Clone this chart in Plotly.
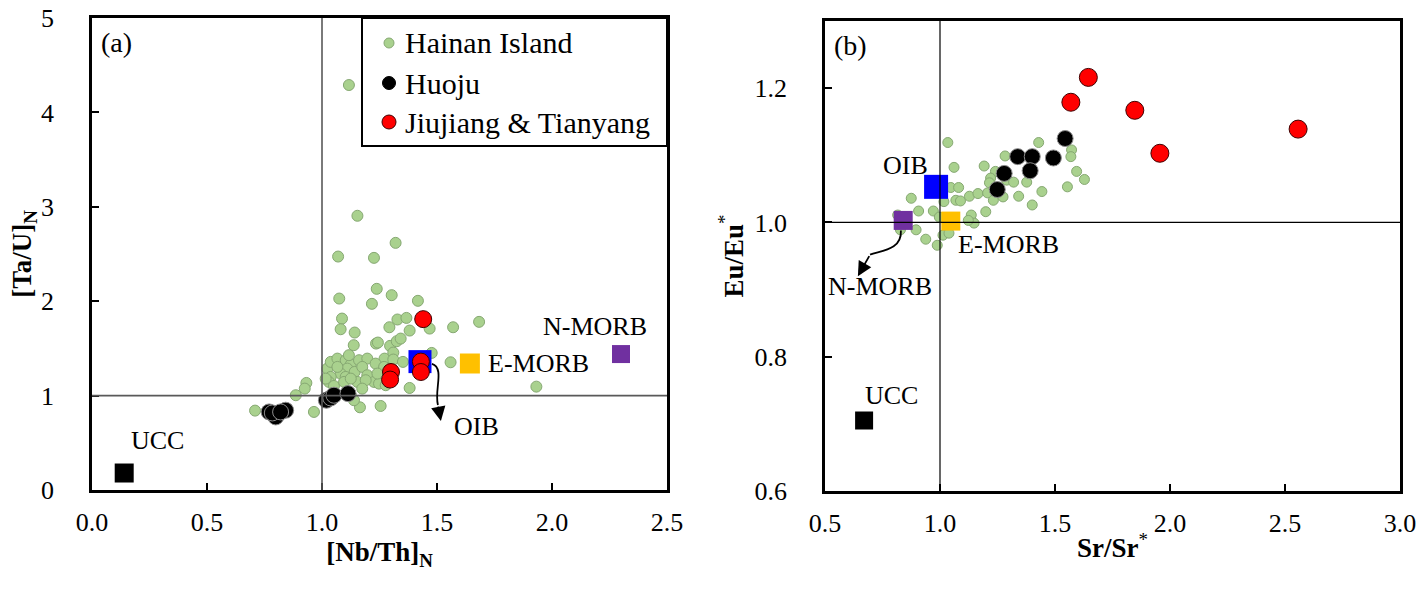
import plotly.graph_objects as go

# ---------------- data ----------------
# Panel (a): [Nb/Th]N vs [Ta/U]N
a_hainan_x = [1.154, 1.320, 1.070, 1.226, 1.238, 1.303, 1.075, 1.217, 1.417, 1.087,
              1.328, 1.367, 1.081, 1.142, 1.293, 1.381, 1.468, 1.570, 1.683, 1.138,
              1.235, 1.243, 1.296, 1.325, 1.342, 1.272, 1.310, 1.310, 1.352, 1.477,
              1.559, 1.932, 1.023, 1.038, 1.067, 1.103, 1.125, 1.161, 1.197, 1.233,
              1.110, 1.142, 1.175, 1.197, 1.081, 1.038, 1.030, 1.052, 1.103, 1.154,
              1.226, 1.248, 0.932, 0.925, 0.886, 0.965, 0.709, 1.165, 1.255, 1.381,
              1.277, 1.125, 1.139, 1.190, 1.270, 1.117, 1.096, 1.067, 1.016, 1.175,
              1.241, 1.125, 1.117]
a_hainan_y = [2.905, 2.618, 2.473, 2.459, 2.131, 2.064, 2.028, 1.972, 2.004, 1.816,
              1.806, 1.823, 1.703, 1.668, 1.724, 1.689, 1.710, 1.724, 1.781, 1.534,
              1.551, 1.562, 1.527, 1.576, 1.604, 1.392, 1.456, 1.382, 1.357, 1.452,
              1.353, 1.095, 1.286, 1.357, 1.392, 1.375, 1.329, 1.375, 1.392, 1.339,
              1.286, 1.251, 1.304, 1.216, 1.233, 1.198, 1.145, 1.102, 1.198, 1.145,
              1.145, 1.127, 1.134, 1.074, 1.004, 0.827, 0.841, 0.876, 0.890, 1.081,
              1.110, 1.004, 0.951, 1.163, 1.304, 1.428, 1.145, 1.304, 1.180, 1.074,
              1.233, 1.180, 4.290]
a_huoju_x = [0.770, 0.799, 0.842, 0.784, 0.820, 1.019, 1.038, 1.052, 1.113]
a_huoju_y = [0.827, 0.774, 0.845, 0.816, 0.827, 0.951, 0.975, 1.004, 1.021]
a_jt_x = [1.440, 1.430, 1.430, 1.300, 1.296]
a_jt_y = [1.810, 1.360, 1.250, 1.250, 1.170]

# Panel (b): Sr/Sr* vs Eu/Eu*
b_hainan_x = [1.034, 1.429, 1.572, 1.569, 1.283, 1.061, 1.192, 1.241, 1.220, 1.215,
              1.290, 1.320, 1.377, 1.594, 1.628, 1.554, 1.443, 1.047, 1.081, 0.875,
              1.069, 1.089, 1.128, 1.165, 1.207, 1.232, 1.274, 1.342, 1.401, 1.199,
              1.017, 0.971, 0.907, 1.136, 1.148, 1.123, 0.816, 0.828, 0.938, 0.988,
              1.013, 1.039, 0.997, 0.896]
b_hainan_y = [1.119, 1.119, 1.108, 1.098, 1.099, 1.082, 1.084, 1.076, 1.066, 1.059,
              1.063, 1.060, 1.060, 1.076, 1.064, 1.053, 1.046, 1.052, 1.052, 1.036,
              1.033, 1.032, 1.039, 1.043, 1.044, 1.033, 1.038, 1.039, 1.026, 1.016,
              1.031, 1.017, 1.017, 1.011, 0.999, 1.003, 1.011, 0.989, 0.975, 0.966,
              0.981, 0.984, 1.008, 0.989]
b_huoju_x = [1.544, 1.338, 1.401, 1.493, 1.392, 1.279, 1.249]
b_huoju_y = [1.125, 1.098, 1.098, 1.096, 1.077, 1.073, 1.049]
b_jt_x = [1.645, 1.569, 1.847, 1.956, 2.557]
b_jt_y = [1.216, 1.179, 1.167, 1.103, 1.139]

# Reference reservoirs
ref_names = ["UCC", "OIB", "E-MORB", "N-MORB"]
ref_colors = ["#000000", "#0000ff", "#ffc000", "#7030a0"]
ref_a_x = [0.14, 1.426, 1.643, 2.30]
ref_a_y = [0.18, 1.36, 1.34, 1.44]
ref_b_x = [0.67, 0.983, 1.047, 0.840]
ref_b_y = [0.705, 1.053, 1.002, 1.003]

# Legend entries
legend_names = ["Hainan Island", "Huoju", "Jiujiang & Tianyang"]

# ---------------- styling ----------------
W, H = 1426, 591
SERIF = "Liberation Serif"
GREEN, GREEN_EDGE = "#a9d18e", "#86a872"

# plot boxes in pixels (left, right, top, bottom)
BOX_A = (92, 667, 18, 490)
BOX_B = (825, 1400, 21, 491)


def px_x(p):
    return p / W


def px_y(p):
    return 1 - p / H


fig = go.Figure()

panels = [
    dict(xa="x", ya="y", hx=a_hainan_x, hy=a_hainan_y, kx=a_huoju_x, ky=a_huoju_y,
         jx=a_jt_x, jy=a_jt_y, rx=ref_a_x, ry=ref_a_y,
         gs=11, ks=16, js=17, rs=[19, 23, 20, 18]),
    dict(xa="x2", ya="y2", hx=b_hainan_x, hy=b_hainan_y, kx=b_huoju_x, ky=b_huoju_y,
         jx=b_jt_x, jy=b_jt_y, rx=ref_b_x, ry=ref_b_y,
         gs=10, ks=16, js=18, rs=[18, 24, 19, 19]),
]

for p in panels:
    fig.add_trace(go.Scatter(
        x=p["hx"], y=p["hy"], xaxis=p["xa"], yaxis=p["ya"], mode="markers",
        marker=dict(size=p["gs"], color=GREEN, line=dict(color=GREEN_EDGE, width=1)),
        showlegend=False))
    for i, name in enumerate(ref_names):
        fig.add_trace(go.Scatter(
            x=[p["rx"][i]], y=[p["ry"][i]], xaxis=p["xa"], yaxis=p["ya"], mode="markers",
            marker=dict(symbol="square", size=p["rs"][i], color=ref_colors[i],
                        line=dict(width=0)),
            showlegend=False))
    fig.add_trace(go.Scatter(
        x=p["kx"], y=p["ky"], xaxis=p["xa"], yaxis=p["ya"], mode="markers",
        marker=dict(size=p["ks"], color="#000000", line=dict(color="#8c8c8c", width=1)),
        showlegend=False))
    fig.add_trace(go.Scatter(
        x=p["jx"], y=p["jy"], xaxis=p["xa"], yaxis=p["ya"], mode="markers",
        marker=dict(size=p["js"], color="#ff0000", line=dict(color="#400000", width=1)),
        showlegend=False))

# ---- boxed legend inside panel (a), drawn on an overlay of the panel box ----
LEG_BOX = (362, 667, 18, 146)          # left, right, top, bottom in px
LEG_SYM_X = 389
LEG_ROWS = [43, 83, 122]
leg_style = [(GREEN, GREEN_EDGE, 10), ("#000000", "#000000", 13), ("#ff0000", "#400000", 14)]


def in_box_x(p):
    return (p - BOX_A[0]) / (BOX_A[1] - BOX_A[0])


def in_box_y(p):
    return (BOX_A[3] - p) / (BOX_A[3] - BOX_A[2])


for name, row, (c, e, s) in zip(legend_names, LEG_ROWS, leg_style):
    fig.add_trace(go.Scatter(
        x=[in_box_x(LEG_SYM_X)], y=[in_box_y(row)], xaxis="x3", yaxis="y3",
        mode="markers", name=name, showlegend=False, hoverinfo="skip",
        marker=dict(size=s, color=c, line=dict(color=e, width=1))))

# reference lines at 1
shapes = [
    dict(type="line", xref="x", yref="y domain", x0=1, x1=1, y0=0, y1=1,
         line=dict(color="#595959", width=1.6)),
    dict(type="line", xref="x domain", yref="y", x0=0, x1=1, y0=1, y1=1,
         line=dict(color="#595959", width=1.6)),
    dict(type="line", xref="x2", yref="y2 domain", x0=1, x1=1, y0=0, y1=1,
         line=dict(color="#000000", width=1.2)),
    dict(type="line", xref="x2 domain", yref="y2", x0=0, x1=1, y0=1, y1=1,
         line=dict(color="#000000", width=1.2)),
    dict(type="rect", xref="paper", yref="paper",
         x0=px_x(LEG_BOX[0]), x1=px_x(LEG_BOX[1]), y0=px_y(LEG_BOX[3]), y1=px_y(LEG_BOX[2]),
         line=dict(color="#000000", width=2), fillcolor="rgba(0,0,0,0)"),
]

# curved pointer from OIB to its label in (a)
ox, oy = ref_a_x[1], ref_a_y[1]
shapes.append(dict(
    type="path", xref="x", yref="y",
    path=(f"M {ox + 0.052},{oy - 0.025} C {ox + 0.109},{oy - 0.068} "
          f"{ox + 0.061},{oy - 0.301} {ox + 0.078},{oy - 0.46}"),
    line=dict(color="#000000", width=1.8)))
# curved pointer from N-MORB to its label in (b)
nx, ny = ref_b_x[3], ref_b_y[3]
shapes.append(dict(
    type="path", xref="x2", yref="y2",
    path=(f"M {nx - 0.010},{ny - 0.015} C {nx - 0.005},{ny - 0.045} "
          f"{nx - 0.101},{ny - 0.045} {nx - 0.144},{ny - 0.051}"),
    line=dict(color="#000000", width=1.8)))

TXT = dict(family=SERIF, size=26, color="#000000")
ann = []
# arrowheads
ann.append(dict(xref="x", yref="y", axref="x", ayref="y",
                x=ox + 0.091, y=oy - 0.63, ax=ox + 0.078, ay=oy - 0.46,
                showarrow=True, arrowhead=2, arrowsize=1.6, arrowwidth=1.8,
                arrowcolor="#000000", text=""))
ann.append(dict(xref="x2", yref="y2", axref="x2", ayref="y2",
                x=nx - 0.197, y=ny - 0.083, ax=nx - 0.144, ay=ny - 0.051,
                showarrow=True, arrowhead=2, arrowsize=1.6, arrowwidth=1.8,
                arrowcolor="#000000", text=""))

# reservoir labels: (name index, axis, xshift, yshift, xanchor)
label_spec = [
    (0, "", 33, 33, "center"),
    (1, "", 57, -65, "center"),
    (2, "", 16, 0, "left"),
    (3, "", -26, 28, "center"),
    (0, "2", 27, 25, "center"),
    (1, "2", -31, 21, "center"),
    (2, "2", 5, -23, "left"),
    (3, "2", -23, -66, "center"),
]
for i, ax_id, xs, ys, anchor in label_spec:
    rx = ref_a_x if ax_id == "" else ref_b_x
    ry = ref_a_y if ax_id == "" else ref_b_y
    ann.append(dict(xref="x" + ax_id, yref="y" + ax_id, x=rx[i], y=ry[i],
                    text=ref_names[i], showarrow=False, xshift=xs, yshift=ys,
                    xanchor=anchor, yanchor="middle", font=TXT))

# legend texts
for name, row in zip(legend_names, LEG_ROWS):
    ann.append(dict(xref="paper", yref="paper", x=px_x(LEG_SYM_X + 14), y=px_y(row),
                    text=name, showarrow=False, xanchor="left", yanchor="middle",
                    font=dict(family=SERIF, size=30, color="#000000")))

# panel tags
ann.append(dict(xref="x domain", yref="y domain", x=0.012, y=0.985, text="(a)",
                showarrow=False, xanchor="left", yanchor="top",
                font=dict(family=SERIF, size=28, color="#000000")))
ann.append(dict(xref="x2 domain", yref="y2 domain", x=0.012, y=0.985, text="(b)",
                showarrow=False, xanchor="left", yanchor="top",
                font=dict(family=SERIF, size=28, color="#000000")))

TICKFONT = dict(family=SERIF, size=26, color="#000000")
TITLEFONT = dict(family=SERIF, size=27, color="#000000")
common = dict(showgrid=False, zeroline=False, showline=True, linecolor="#000000",
              linewidth=2.5, mirror=True, ticks="inside", ticklen=7, tickwidth=2,
              tickcolor="#000000", tickfont=TICKFONT, automargin=False)

fig.update_layout(
    width=W, height=H, margin=dict(l=0, r=0, t=0, b=0, autoexpand=False),
    paper_bgcolor="#ffffff", plot_bgcolor="rgba(0,0,0,0)",
    shapes=shapes, annotations=ann,
    showlegend=False,
    xaxis=dict(domain=[px_x(BOX_A[0]), px_x(BOX_A[1])], anchor="y", range=[0, 2.5],
               dtick=0.5, tickformat=".1f", ticklabelstandoff=7,
               title=dict(text="<b>[Nb/Th]</b><sub><b>N</b></sub>", font=TITLEFONT,
                          standoff=0), **common),
    yaxis=dict(domain=[px_y(BOX_A[3]), px_y(BOX_A[2])], anchor="x", range=[0, 5], dtick=1,
               ticklabelstandoff=30,
               title=dict(text="<b>[Ta/U]</b><sub><b>N</b></sub>", font=TITLEFONT,
                          standoff=0), **common),
    xaxis2=dict(domain=[px_x(BOX_B[0]), px_x(BOX_B[1])], anchor="y2", range=[0.5, 3.0],
                dtick=0.5, tickformat=".1f", ticklabelstandoff=7,
                title=dict(text="<b>Sr/Sr</b><sup>*</sup>", font=TITLEFONT, standoff=2),
                **common),
    yaxis2=dict(domain=[px_y(BOX_B[3]), px_y(BOX_B[2])], anchor="x2", range=[0.6, 1.3],
                tickvals=[0.6, 0.8, 1.0, 1.2], tickformat=".1f", ticklabelstandoff=30,
                title=dict(text="<b>Eu/Eu</b><sup>*</sup>", font=TITLEFONT, standoff=4),
                **common),
    xaxis3=dict(overlaying="x", anchor="y3", range=[0, 1], visible=False,
                showgrid=False, zeroline=False, fixedrange=True),
    yaxis3=dict(overlaying="y", anchor="x3", range=[0, 1], visible=False,
                showgrid=False, zeroline=False, fixedrange=True),
)

fig.write_html("out.html")
